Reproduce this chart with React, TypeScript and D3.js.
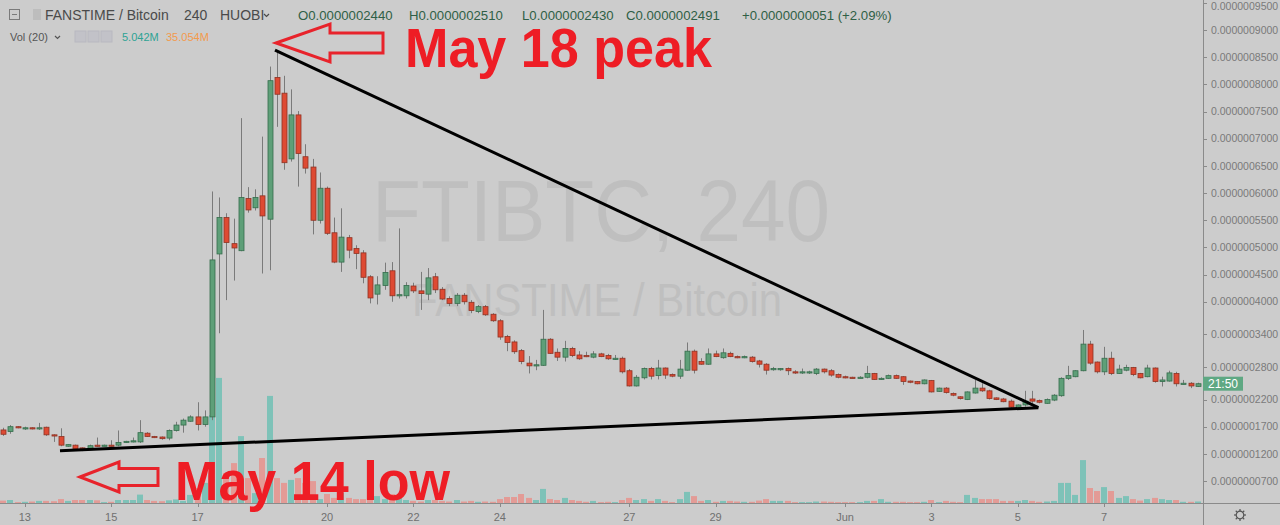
import React from 'react';
import * as d3 from 'd3';

// ---- Data (price in units of 1e-10 BTC, 4h candles) ----
const opens = [1640,1610,1700,1670,1680,1660,1690,1550,1520,1340,
1360,1310,1290,1360,1350,1360,1360,1410,1420,1420,
1580,1520,1510,1490,1630,1730,1800,1880,1740,1880,
4880,5550,5070,4940,5900,5730,5950,5520,8130,7840,
6630,7440,6670,6480,5500,6090,5270,4730,5180,4980,
4900,4460,4140,4300,4570,4110,4110,4290,4200,4140,
4460,4230,4060,3970,4120,3990,3820,3910,3770,3650,
3360,3260,3100,2870,2830,2830,3310,3070,2980,3140,
3020,3010,2980,3040,3010,2940,2960,2730,2450,2600,
2770,2640,2780,2660,2630,2740,3090,2900,2850,3040,
2970,3050,2990,2970,2980,2910,2850,2750,2750,2770,
2710,2690,2690,2680,2760,2730,2660,2620,2610,2600,
2610,2680,2570,2590,2640,2620,2540,2530,2490,2550,
2350,2410,2310,2250,2200,2320,2410,2360,2230,2210,
2170,2060,2100,2210,2180,2130,2190,2270,2590,2620,
2730,3220,2890,2710,2960,2680,2740,2790,2680,2620,
2780,2530,2540,2680,2490,2500,2440];
const highs = [1680,1730,1710,1700,1690,1770,1700,1560,1670,1380,
1370,1320,1370,1500,1370,1450,1630,1440,1500,1820,
1600,1530,1520,1650,1790,1850,1910,2150,2000,6030,
5920,5630,5530,7380,6110,6070,7040,8330,8630,8160,
7910,7510,6900,6630,6380,6120,5550,5720,5230,5040,
4950,4490,4470,4720,4730,5350,4360,4350,4550,4620,
4530,4270,4100,4160,4160,4030,3940,3940,3790,3680,
3390,3290,3130,3000,2930,3850,3330,3140,3280,3170,
3090,3080,3090,3060,3040,3020,2990,2760,2650,2790,
2800,2930,2790,2680,2930,3250,3120,2960,3140,3100,
3140,3080,3010,3010,3000,2930,2870,2800,2780,2790,
2740,2770,2730,2780,2770,2760,2680,2640,2620,2630,
2820,2690,2610,2660,2660,2630,2550,2540,2570,2560,
2420,2430,2330,2260,2350,2560,2500,2380,2240,2230,
2200,2110,2360,2360,2200,2220,2300,2610,2820,2740,
3480,3280,2900,3170,3080,2840,2840,2800,2690,2840,
2790,2620,2730,2710,2560,2520,2510];
const lows = [1530,1570,1670,1640,1650,1640,1530,1420,1340,1330,
1280,1250,1280,1330,1340,1330,1340,1400,1410,1400,
1510,1490,1460,1450,1610,1590,1790,1630,1700,1820,
3420,4030,4390,4930,5640,5680,4520,4580,7220,6430,
6580,6120,6360,5240,5440,5230,4710,4550,4800,4600,
4340,3970,3950,4220,4000,4060,4060,4160,3850,4030,
4160,4030,3920,3920,3950,3790,3790,3740,3630,3300,
3090,3040,2850,2680,2740,2820,3040,2910,2900,2980,
2930,2980,2960,2980,2930,2930,2680,2440,2440,2570,
2570,2570,2580,2610,2580,2730,2680,2840,2840,2980,
2950,2980,2960,2960,2880,2790,2660,2730,2730,2650,
2670,2670,2670,2650,2680,2620,2590,2590,2590,2590,
2590,2560,2560,2580,2580,2470,2500,2480,2480,2330,
2340,2310,2260,2200,2190,2310,2340,2200,2190,2150,
2040,2050,2070,2130,2130,2120,2170,2250,2560,2610,
2720,2840,2680,2650,2650,2670,2720,2630,2590,2610,
2510,2440,2530,2440,2480,2410,2430];
const closes = [1560,1700,1680,1680,1660,1680,1550,1530,1360,1370,
1290,1280,1350,1340,1360,1350,1410,1430,1440,1590,
1520,1500,1480,1630,1730,1820,1880,1740,1880,4770,
5550,5090,4990,5920,5690,5920,5580,8070,7820,6560,
7440,6730,6460,5500,6090,5260,4730,5190,4950,4890,
4450,4070,4310,4540,4110,4130,4300,4200,4150,4440,
4220,4050,3970,4120,4000,3840,3910,3760,3650,3350,
3250,3080,2900,2820,2840,3310,3050,2980,3140,3010,
2950,2990,3040,2990,2950,2960,2710,2450,2610,2770,
2630,2780,2650,2630,2760,3090,2740,2850,3040,2990,
3060,2990,2970,2990,2900,2850,2740,2770,2770,2730,
2690,2710,2710,2760,2710,2650,2610,2610,2600,2610,
2680,2570,2590,2640,2590,2530,2520,2490,2560,2340,
2410,2330,2280,2220,2340,2410,2360,2220,2200,2160,
2060,2100,2170,2170,2150,2200,2280,2590,2640,2730,
3220,2870,2710,2960,2680,2760,2790,2660,2600,2780,
2530,2560,2690,2490,2500,2450,2491];
// volume in millions
const volumes = [8,10,3,4,5,7,7,6,13,7,
10,10,10,9,3,4,10,10,10,28,
10,7,6,9,12,7,27,50,67,293,
417,100,133,223,83,33,150,357,83,67,
77,83,67,73,13,30,17,33,17,13,
13,30,23,13,30,17,10,7,5,10,
10,7,5,10,5,7,4,5,4,13,
20,20,30,17,10,47,13,10,17,10,
7,4,7,3,4,3,10,17,10,13,
7,13,7,3,13,37,23,7,10,4,
7,7,5,4,4,8,13,7,7,7,
3,3,3,5,5,4,3,3,3,3,
7,7,13,4,4,4,3,3,4,10,
3,7,4,3,27,17,13,13,13,7,
7,7,10,7,4,5,7,67,67,27,
143,50,40,53,40,17,23,13,8,13,
17,13,10,10,4,4,5.042];

const dayTickIndex = [3, 15, 27, 45, 57, 69, 87, 99, 117, 129, 141, 153];
const dayTickLabels = ['13', '15', '17', '20', '22', '24', '27', '29', 'Jun', '3', '5', '7'];
const priceTicks = [700, 1200, 1700, 2200, 2800, 3400, 4000, 4500, 5000, 5500, 6000, 6500, 7000, 7500, 8000, 8500, 9000, 9500];

// legend of the last candle
const ohlcLetters = ['O', 'H', 'L', 'C'];
const ohlcValues = [2440, 2510, 2430, 2491];
const ohlcX = [298, 409, 522, 626];

// trend lines in (candle index, price)
const trendLines: [number, number, number, number][] = [
  [37.76, 8634, 143.86, 2050],
  [7.88, 1258, 143.86, 2050],
];

const W = 1280;
const H = 525;
const BG = '#cccccc';
const FONT = '"Liberation Sans", Arial, sans-serif';

const x = d3.scaleLinear().domain([0, 166]).range([3.3, 1197.7]);
const y = d3.scaleLinear().domain([700, 9500]).range([481, 3]);
const vy = d3.scaleLinear().domain([0, 100]).range([503, 473]);

const fmt = (v: number) => (v / 1e10).toFixed(10);

function arrowPath(tx: number, ty: number, headLen: number, headHalf: number, shaftHalf: number, total: number) {
  const p = d3.path();
  p.moveTo(tx, ty);
  p.lineTo(tx + headLen, ty - headHalf);
  p.lineTo(tx + headLen, ty - shaftHalf);
  p.lineTo(tx + total, ty - shaftHalf);
  p.lineTo(tx + total, ty + shaftHalf);
  p.lineTo(tx + headLen, ty + shaftHalf);
  p.lineTo(tx + headLen, ty + headHalf);
  p.closePath();
  return p.toString();
}

export default function App() {
  const n = opens.length;
  const idx = d3.range(n);
  const last = closes[n - 1];
  return (
    <div style={{ position: 'absolute', left: 0, top: 0 }}>
      <svg width={W} height={H} style={{ display: 'block', fontFamily: FONT }}>
        <rect x={0} y={0} width={W} height={H} fill={BG} />
        {/* watermark */}
        <text x={372} y={241} fontSize={88} fill="#bfbfbf" textLength={458} lengthAdjust="spacingAndGlyphs">FTIBTC, 240</text>
        <text x={412} y={316} fontSize={46} fill="#bfbfbf" textLength={370} lengthAdjust="spacingAndGlyphs">FANSTIME / Bitcoin</text>

        {/* volume */}
        {idx.map((i) => {
          const cx = Math.round(x(i));
          const up = closes[i] >= opens[i];
          const top = vy(volumes[i]);
          return <rect key={'v' + i} x={cx - 3} y={top} width={6} height={503 - top} fill={up ? '#7ec2b8' : '#e39b96'} />;
        })}

        {/* candles */}
        {idx.map((i) => {
          const cx = Math.round(x(i));
          const up = closes[i] >= opens[i];
          const yt = y(Math.max(opens[i], closes[i]));
          const yb = y(Math.min(opens[i], closes[i]));
          return (
            <g key={'c' + i}>
              <line x1={cx + 0.5} x2={cx + 0.5} y1={y(highs[i])} y2={y(lows[i])} stroke="#7a7a7a" strokeWidth={1} />
              <rect x={cx - 2} y={yt} width={5} height={Math.max(1.2, yb - yt)}
                fill={up ? '#5e9f78' : '#de4a33'} stroke={up ? '#356d4c' : '#8e3324'} strokeWidth={0.8} />
            </g>
          );
        })}

        {/* trend lines */}
        {trendLines.map((t, k) => (
          <line key={'t' + k} x1={x(t[0])} y1={y(t[1])} x2={x(t[2])} y2={y(t[3])} stroke="#000" strokeWidth={3} />
        ))}

        {/* axes */}
        <line x1={1203.5} x2={1203.5} y1={0} y2={H} stroke="#8a8a8a" strokeWidth={1} />
        <line x1={0} x2={W} y1={503.5} y2={503.5} stroke="#8a8a8a" strokeWidth={1} />
        {priceTicks.map((p) => (
          <g key={'p' + p}>
            <line x1={1203} x2={1207} y1={Math.round(y(p)) + 0.5} y2={Math.round(y(p)) + 0.5} stroke="#8a8a8a" />
            <text x={1211} y={Math.max(y(p), 6)} dy="0.35em" fontSize={10.5} fill="#7a7a7a">{fmt(p)}</text>
          </g>
        ))}
        {dayTickIndex.map((di, k) => (
          <g key={'d' + k}>
            <line x1={Math.round(x(di)) + 0.5} x2={Math.round(x(di)) + 0.5} y1={503} y2={507} stroke="#8a8a8a" />
            <text x={x(di)} y={521} fontSize={11} fill="#707070" textAnchor="middle">{dayTickLabels[k]}</text>
          </g>
        ))}
        {/* last price label */}
        <rect x={1203} y={y(last) - 7} width={40} height={14} fill="#5fa883" />
        <text x={1223} y={y(last)} dy="0.36em" fontSize={12} fill="#fff" textAnchor="middle">21:50</text>

        {/* gear */}
        <g transform="translate(1240,515)" stroke="#555" fill="none" strokeWidth={1.2}>
          <circle r={3.8} />
          {d3.range(8).map((k) => {
            const a = (k * Math.PI) / 4;
            return <line key={k} x1={Math.cos(a) * 3.8} y1={Math.sin(a) * 3.8} x2={Math.cos(a) * 6} y2={Math.sin(a) * 6} />;
          })}
        </g>

        {/* header */}
        <rect x={9.5} y={9.5} width={10} height={10} fill="none" stroke="#7a7a7a" />
        <line x1={12} x2={17} y1={14.5} y2={14.5} stroke="#7a7a7a" />
        <rect x={33} y={9} width={8} height={11} fill="#bdbdbd" />
        <text x={45} y={20} fontSize={14} fill="#4a4a4a">FANSTIME / Bitcoin</text>
        <text x={184} y={20} fontSize={14} fill="#4a4a4a">240</text>
        <text x={220} y={20} fontSize={14} fill="#4a4a4a">HUOBI</text>
        <polyline points="264,14 266.5,16.5 269,14" fill="none" stroke="#4a4a4a" strokeWidth={1.2} />
        {ohlcLetters.map((l, k) => (
          <text key={'o' + k} x={ohlcX[k]} y={20} fontSize={13.2} fill="#2f5f46">{l + fmt(ohlcValues[k])}</text>
        ))}
        <text x={742} y={20} fontSize={13.2} fill="#2f5f46">+0.0000000051 (+2.09%)</text>

        <text x={10} y={41} fontSize={11} fill="#555">Vol (20)</text>
        <polyline points="55,36 57.5,38.5 60,36" fill="none" stroke="#555" strokeWidth={1.2} />
        {[75, 88, 101].map((bx) => (
          <rect key={bx} x={bx} y={31} width={11} height={11} fill="#c2c2c8" stroke="#b8b8c0" />
        ))}
        <text x={122} y={41} fontSize={11} fill="#2ea394">5.042M</text>
        <text x={166} y={41} fontSize={11} fill="#f39a4c">35.054M</text>

        {/* annotations */}
        <path d={arrowPath(276, 43, 54, 19, 10, 107)} fill="none" stroke="#e8232b" strokeWidth={3} strokeLinejoin="miter" />
        <path d={arrowPath(80, 477, 39, 15, 8.5, 78)} fill="none" stroke="#e8232b" strokeWidth={3} strokeLinejoin="miter" />
        <text x={405} y={67} fontSize={56} fontWeight="bold" fill="#ee1d25" textLength={307} lengthAdjust="spacingAndGlyphs">May 18 peak</text>
        <text x={175} y={500} fontSize={56} fontWeight="bold" fill="#ee1d25" textLength={275} lengthAdjust="spacingAndGlyphs">May 14 low</text>
      </svg>
    </div>
  );
}
